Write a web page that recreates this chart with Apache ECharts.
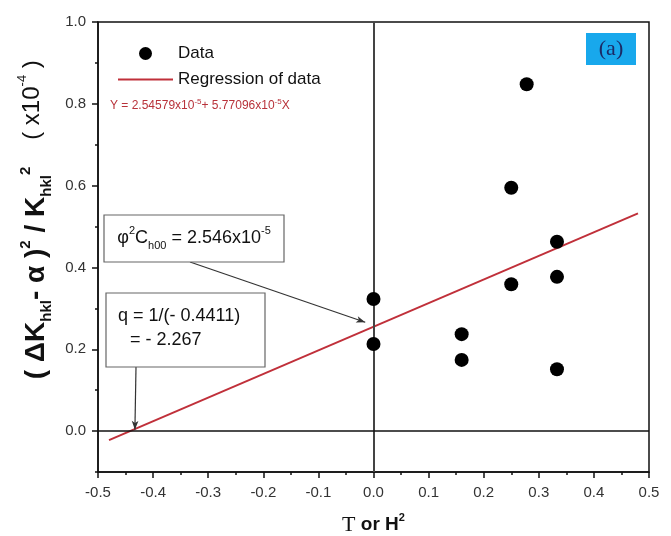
<!DOCTYPE html>
<html>
<head>
<meta charset="utf-8">
<script src="https://cdn.jsdelivr.net/npm/echarts@6/dist/echarts.min.js"></script>
<style>
  html, body { margin: 0; padding: 0; background: #fff; }
  #chart { width: 671px; height: 536px; }
</style>
</head>
<body>
<div id="chart"></div>
<script>
// values (y in units of 1e-4)
const dataX = [0, 0, 0.16, 0.16, 0.25, 0.25, 0.278, 0.333, 0.333, 0.333];
const dataY = [0.323, 0.213, 0.237, 0.174, 0.595, 0.359, 0.848, 0.463, 0.377, 0.151];
const regX = [-0.48, 0.48];
const regY = [-0.022, 0.532];
const yLabelValues = [0, 0.2, 0.4, 0.6, 0.8, 1.0];
// arrow tips of the two annotations
const interceptTip = [-0.015, 0.266];
const rootTip = [-0.433, 0.003];

const font = 'Liberation Sans, Arial, sans-serif';
const serif = 'Liberation Serif, Times New Roman, serif';

const chart = echarts.init(document.getElementById('chart'));

const sub = { fontSize: 11, fontFamily: font, verticalAlign: 'bottom', lineHeight: 26 };
const sup = { fontSize: 11, fontFamily: font, verticalAlign: 'top', lineHeight: 26 };

chart.setOption({
  animation: false,
  backgroundColor: '#fff',
  grid: {
    left: 98, right: 22, top: 22, bottom: 64,
    outerBoundsMode: 'none',
    show: true, borderColor: '#111', borderWidth: 1.5
  },
  legend: {
    data: [
      { name: 'Data', icon: 'circle' },
      { name: 'Regression of data', icon: 'path://M0,0H55V1.8H0Z' }
    ],
    orient: 'vertical',
    left: 113, top: 40,
    itemWidth: 55, itemHeight: 13, itemGap: 9,
    symbolKeepAspect: true,
    textStyle: { fontSize: 17, fontFamily: font, color: '#111' }
  },
  xAxis: {
    type: 'value',
    min: -0.5, max: 0.5, interval: 0.1,
    name: '{t|T}{m| or H}{p|2}',
    nameLocation: 'middle', nameGap: 40,
    nameTextStyle: {
      rich: {
        t: { fontSize: 22, fontFamily: serif, color: '#111', lineHeight: 26 },
        m: { fontSize: 19, fontFamily: font, fontWeight: 'bold', color: '#111', lineHeight: 26 },
        p: { ...sup, fontWeight: 'bold', color: '#111' }
      }
    },
    axisLine: { onZero: false, lineStyle: { color: '#111', width: 1.5 } },
    axisTick: { length: 6, lineStyle: { color: '#111', width: 1.5 } },
    minorTick: { show: true, splitNumber: 2, length: 3, lineStyle: { color: '#111', width: 1.5 } },
    axisLabel: {
      fontSize: 15, fontFamily: font, color: '#333', margin: 13,
      formatter: v => v.toFixed(1)
    },
    splitLine: { show: false }
  },
  yAxis: [{
    type: 'value',
    min: -0.1, max: 1.0, interval: 0.1,
    axisLine: { onZero: false, lineStyle: { color: '#111', width: 1.5 } },
    axisTick: { length: 6, customValues: yLabelValues, lineStyle: { color: '#111', width: 1.5 } },
    axisLabel: {
      fontSize: 15, fontFamily: font, color: '#333', margin: 12,
      customValues: yLabelValues,
      formatter: v => v.toFixed(1)
    },
    splitLine: { show: false }
  }, {
    type: 'value',
    position: 'left',
    min: -0.1, max: 1.0, interval: 0.1,
    axisLine: { show: false, onZero: false },
    axisTick: { length: 3, lineStyle: { color: '#111', width: 1.5 } },
    axisLabel: { show: false },
    splitLine: { show: false }
  }],
  series: [{
    name: 'refs',
    type: 'line',
    data: [],
    z: 1,
    markLine: {
      silent: true,
      symbol: ['none', 'none'],
      label: { show: false },
      lineStyle: { color: '#111', width: 1.5, type: 'solid' },
      data: [
        { xAxis: 0, lineStyle: { color: '#444', width: 2 } },
        { yAxis: 0 },
        [
          { x: 190, y: 262, symbol: 'none' },
          { coord: interceptTip, symbol: 'arrow', symbolSize: [5, 9], lineStyle: { color: '#333', width: 1.2 } }
        ],
        [
          { x: 136, y: 367, symbol: 'none' },
          { coord: rootTip, symbol: 'arrow', symbolSize: [5, 9], lineStyle: { color: '#333', width: 1.2 } }
        ]
      ]
    }
  }, {
    name: 'Regression of data',
    type: 'line',
    data: regX.map((x, i) => [x, regY[i]]),
    symbol: 'none',
    z: 2,
    itemStyle: { color: '#c0303a' },
    lineStyle: { color: '#c0303a', width: 2 }
  }, {
    name: 'Data',
    type: 'scatter',
    data: dataX.map((x, i) => [x, dataY[i]]),
    symbol: 'circle',
    symbolSize: 14,
    z: 5,
    itemStyle: { color: '#000', opacity: 1 }
  }],
  graphic: [
    // regression equation
    {
      type: 'text', left: 110, top: 98, z: 10,
      style: {
        text: 'Y = 2.54579x10{p|-5}+ 5.77096x10{p|-5}X',
        fill: '#b8323a', font: '12px ' + font,
        rich: { p: { fontSize: 8, fill: '#b8323a', verticalAlign: 'top', lineHeight: 16 } }
      }
    },
    // (a) tag
    {
      type: 'rect', shape: { x: 586, y: 33, width: 50, height: 32 }, z: 10,
      style: { fill: '#18a8ec' }
    },
    {
      type: 'text', x: 611, y: 49, z: 11,
      style: { text: '(a)', fill: '#1b2a66', font: '22px ' + serif, align: 'center', verticalAlign: 'middle' }
    },
    // intercept box
    {
      type: 'rect', shape: { x: 104, y: 215, width: 180, height: 47 }, z: 10,
      style: { fill: '#fff', stroke: '#666', lineWidth: 1.2 }
    },
    {
      type: 'text', x: 194, y: 238, z: 11,
      style: {
        text: '{m|φ}{p|2}{m|C}{s|h00}{m| = 2.546x10}{p|-5}',
        align: 'center', verticalAlign: 'middle',
        rich: {
          m: { fontSize: 18, fontFamily: font, fill: '#111', lineHeight: 26 },
          s: { ...sub, fill: '#111' },
          p: { ...sup, fill: '#111' }
        }
      }
    },
    // root box
    {
      type: 'rect', shape: { x: 106, y: 293, width: 159, height: 74 }, z: 10,
      style: { fill: '#fff', stroke: '#666', lineWidth: 1.2 }
    },
    {
      type: 'text', left: 118, top: 307, z: 11,
      style: { text: 'q = 1/(- 0.4411)', fill: '#111', font: '18px ' + font }
    },
    {
      type: 'text', left: 130, top: 331, z: 11,
      style: { text: '= - 2.267', fill: '#111', font: '18px ' + font }
    },
    // y-axis title
    {
      type: 'text', x: 36, y: 273, rotation: Math.PI / 2, z: 10,
      style: {
        text: '{m|( ΔK}{s|hkl}{m|- α )}{p|2}{m| / K}{s|hkl}{p|2}',
        align: 'center', verticalAlign: 'middle',
        rich: {
          m: { fontSize: 28, fontFamily: font, fontWeight: 'bold', fill: '#111', lineHeight: 36 },
          s: { fontSize: 15, fontFamily: font, fontWeight: 'bold', fill: '#111', verticalAlign: 'bottom', lineHeight: 36 },
          p: { fontSize: 15, fontFamily: font, fontWeight: 'bold', fill: '#111', verticalAlign: 'top', lineHeight: 36 }
        }
      }
    },
    {
      type: 'text', x: 32, y: 100, rotation: Math.PI / 2, z: 10,
      style: {
        text: '{m|( x10}{p|-4}{m| )}',
        align: 'center', verticalAlign: 'middle',
        rich: {
          m: { fontSize: 24, fontFamily: font, fill: '#111', lineHeight: 32 },
          p: { fontSize: 13, fontFamily: font, fill: '#111', verticalAlign: 'top', lineHeight: 32 }
        }
      }
    }
  ]
});
</script>
</body>
</html>
